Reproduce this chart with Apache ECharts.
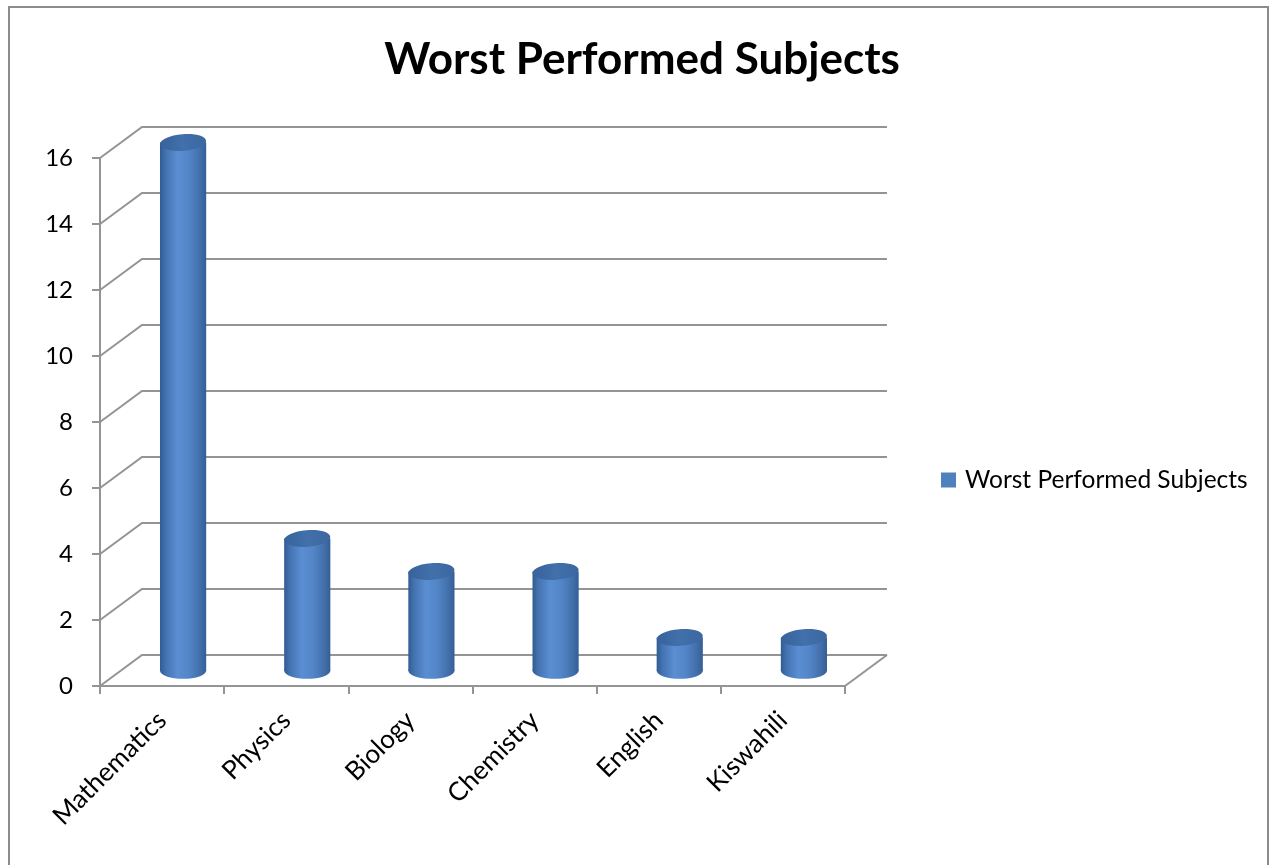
<!DOCTYPE html>
<html>
<head>
<meta charset="utf-8">
<script src="https://cdn.jsdelivr.net/npm/echarts@6/dist/echarts.min.js"></script>
<style>
  html, body { margin: 0; padding: 0; background: #ffffff; }
  #chart { width: 1274px; height: 865px; }
</style>
</head>
<body>
<div id="chart"></div>
<script>
// Subjects and the number of times each was among the worst performed
const subjects = ['Mathematics', 'Physics', 'Biology', 'Chemistry', 'English', 'Kiswahili'];
const worstCounts = [16, 4, 3, 3, 1, 1];
const yTicks = [0, 2, 4, 6, 8, 10, 12, 14, 16];
const seriesName = 'Worst Performed Subjects';
const chartTitle = 'Worst Performed Subjects';

// Depth of the pseudo-3D box (back wall offset in pixels)
const DEPTH_X = 42;
const DEPTH_Y = 31;
const LINE_COLOR = '#949494';
const FONT = 'Lato, "Open Sans", sans-serif';

const chart = echarts.init(document.getElementById('chart'), null, { renderer: 'canvas' });

// Back wall gridlines with the diagonal connectors on the left wall and floor
function renderWalls(params, api) {
  const cs = params.coordSys;
  const v = api.value(1);
  const y = api.coord([0, v])[1];
  const x0 = cs.x;
  const x1 = cs.x + cs.width;
  const style = { stroke: LINE_COLOR, lineWidth: 2, fill: null };
  const children = [{
    type: 'polyline',
    shape: { points: [[x0, y], [x0 + DEPTH_X, y - DEPTH_Y], [x1 + DEPTH_X, y - DEPTH_Y]] },
    style: style
  }];
  if (v === yTicks[0]) {
    children.push({
      type: 'line',
      shape: { x1: x1, y1: y, x2: x1 + DEPTH_X, y2: y - DEPTH_Y },
      style: style
    });
  }
  return { type: 'group', children: children };
}

// Cylinder standing in the middle of the box depth
function renderCylinder(params, api) {
  const i = api.value(0);
  const v = api.value(1);
  const top = api.coord([i, v]);
  const base = api.coord([i, 0]);
  const band = api.size([1, 0])[0];
  const rx = band * 0.186;
  const ry = rx * 0.36;
  const cx = top[0] + DEPTH_X / 2;
  const yTop = top[1] - DEPTH_Y / 2;
  const yBase = base[1] - DEPTH_Y / 2;
  const side = new echarts.graphic.LinearGradient(0, 0, 1, 0, [
    { offset: 0, color: '#315b92' },
    { offset: 0.12, color: '#4372b0' },
    { offset: 0.38, color: '#5a8ed2' },
    { offset: 0.62, color: '#5386c8' },
    { offset: 0.88, color: '#416ea8' },
    { offset: 1, color: '#345e96' }
  ]);
  const cap = new echarts.graphic.LinearGradient(0, 0, 1, 0, [
    { offset: 0, color: '#38629a' },
    { offset: 0.5, color: '#4170ab' },
    { offset: 1, color: '#3c679f' }
  ]);
  return {
    type: 'group',
    children: [
      { type: 'ellipse', shape: { cx: cx, cy: yBase, rx: rx, ry: ry }, style: { fill: side } },
      { type: 'rect', shape: { x: cx - rx, y: yTop, width: 2 * rx, height: yBase - yTop }, style: { fill: side } },
      {
        type: 'ellipse', shape: { cx: cx, cy: yTop, rx: rx, ry: ry },
        rotation: 0.08, originX: cx, originY: yTop,
        style: { fill: cap }
      }
    ]
  };
}

const option = {
  animation: false,
  backgroundColor: '#ffffff',
  title: {
    text: chartTitle,
    left: 642,
    textAlign: 'center',
    top: 38,
    padding: 0,
    textStyle: { fontFamily: FONT, fontSize: 44, fontWeight: 'bold', color: '#000000' }
  },
  legend: {
    data: [seriesName],
    left: 941,
    top: 467,
    padding: 0,
    icon: 'rect',
    itemWidth: 15,
    itemHeight: 15,
    itemGap: 0,
    textStyle: { fontFamily: FONT, fontSize: 24.5, color: '#000000', lineHeight: 26, padding: [0, 0, 0, 4] }
  },
  grid: { left: 100, top: 158, width: 745, height: 528, containLabel: false },
  xAxis: {
    type: 'category',
    data: subjects,
    boundaryGap: true,
    axisLine: { show: true, lineStyle: { color: LINE_COLOR, width: 2 } },
    axisTick: { show: true, length: 8, interval: 0, lineStyle: { color: LINE_COLOR, width: 2 } },
    axisLabel: { interval: 0, rotate: 45, margin: 30, fontFamily: FONT, fontSize: 26, color: '#000000' },
    splitLine: { show: false }
  },
  yAxis: {
    type: 'value',
    min: 0,
    max: 16,
    interval: 2,
    axisLine: { show: true, lineStyle: { color: LINE_COLOR, width: 2 } },
    axisTick: { show: true, length: 8, lineStyle: { color: LINE_COLOR, width: 2 } },
    axisLabel: { margin: 27, fontFamily: FONT, fontSize: 24, color: '#000000' },
    splitLine: { show: false }
  },
  graphic: [{
    type: 'rect',
    shape: { x: 9, y: 7, width: 1259, height: 900 },
    style: { fill: null, stroke: '#8c8c8c', lineWidth: 2 },
    silent: true,
    z: 0
  }],
  series: [
    {
      type: 'custom',
      name: 'walls',
      renderItem: renderWalls,
      data: yTicks.map(function (t) { return [0, t]; }),
      encode: { x: 0, y: 1 },
      clip: false,
      silent: true,
      z: 1
    },
    {
      type: 'custom',
      name: seriesName,
      renderItem: renderCylinder,
      itemStyle: { color: '#4f81bd' },
      data: worstCounts.map(function (v, i) { return [i, v]; }),
      encode: { x: 0, y: 1 },
      clip: false,
      z: 3
    }
  ]
};

chart.setOption(option);
</script>
</body>
</html>
